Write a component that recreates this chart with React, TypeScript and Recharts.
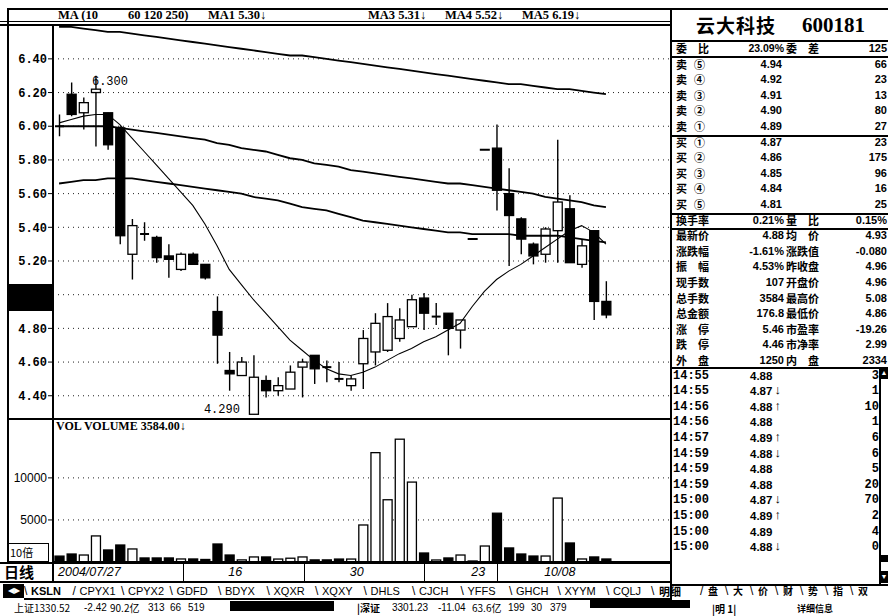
import React from 'react';
import { ComposedChart, Bar, Line, XAxis, YAxis, CartesianGrid } from 'recharts';

// daily bars, 2004/07/27 .. 10/11 (index = trading day)
const openPx = [6.00, 6.19, 6.08, 6.20, 6.08, 5.99, 5.24, 5.36, 5.34, 5.23, 5.15, 5.24, 5.18, 4.90, 4.55, 4.52, 4.29, 4.49, 4.43, 4.44, 4.57, 4.64, 4.57, 4.50, 4.46, 4.59, 4.66, 4.67, 4.74, 4.81, 4.98, 4.86, 4.89, 4.79, 5.33, 5.86, 5.87, 5.60, 5.45, 5.30, 5.24, 5.38, 5.51, 5.18, 5.38, 4.96];
const highPx = [6.07, 6.26, 6.17, 6.30, 6.08, 6.00, 5.45, 5.43, 5.35, 5.30, 5.25, 5.25, 5.18, 4.99, 4.66, 4.63, 4.64, 4.52, 4.51, 4.58, 4.62, 4.64, 4.61, 4.60, 4.52, 4.79, 4.89, 4.95, 4.92, 5.00, 5.01, 4.95, 4.89, 4.85, 5.33, 5.86, 6.01, 5.75, 5.46, 5.31, 5.40, 5.92, 5.59, 5.33, 5.38, 5.08];
const lowPx = [5.94, 6.06, 5.98, 5.88, 5.86, 5.30, 5.09, 5.32, 5.19, 5.10, 5.14, 5.18, 5.09, 4.59, 4.43, 4.52, 4.29, 4.39, 4.40, 4.44, 4.39, 4.47, 4.48, 4.48, 4.43, 4.44, 4.58, 4.66, 4.72, 4.81, 4.79, 4.82, 4.64, 4.68, 5.33, 5.86, 5.50, 5.17, 5.24, 5.18, 5.19, 5.19, 5.19, 5.16, 4.85, 4.86];
const closePx = [6.00, 6.07, 6.14, 6.22, 5.89, 5.35, 5.41, 5.35, 5.22, 5.21, 5.24, 5.18, 5.10, 4.76, 4.53, 4.60, 4.51, 4.43, 4.46, 4.54, 4.60, 4.56, 4.56, 4.49, 4.50, 4.74, 4.83, 4.87, 4.85, 4.97, 4.89, 4.87, 4.80, 4.85, 5.33, 5.86, 5.62, 5.47, 5.33, 5.23, 5.39, 5.55, 5.19, 5.29, 4.96, 4.88];
const volume = [700, 950, 830, 3100, 1430, 2020, 1550, 480, 480, 480, 360, 360, 300, 2140, 830, 250, 600, 600, 350, 450, 600, 250, 250, 350, 350, 4400, 13000, 7400, 14600, 9500, 1070, 240, 480, 830, 120, 1900, 5800, 1670, 950, 710, 710, 7600, 2260, 360, 600, 358];

const ma10 = [6.02, 6.04, 6.06, 6.07, 6.07, 6.01, 5.93, 5.85, 5.77, 5.69, 5.61, 5.53, 5.42, 5.29, 5.15, 5.06, 4.97, 4.89, 4.81, 4.73, 4.67, 4.61, 4.56, 4.53, 4.52, 4.54, 4.57, 4.61, 4.65, 4.68, 4.72, 4.75, 4.79, 4.83, 4.93, 5.02, 5.09, 5.14, 5.18, 5.23, 5.28, 5.33, 5.38, 5.41, 5.37, 5.30];
const ma60 = [5.66, 5.67, 5.68, 5.68, 5.69, 5.69, 5.69, 5.68, 5.67, 5.66, 5.65, 5.64, 5.63, 5.62, 5.61, 5.60, 5.58, 5.57, 5.56, 5.54, 5.52, 5.51, 5.50, 5.48, 5.46, 5.44, 5.43, 5.42, 5.41, 5.40, 5.39, 5.38, 5.37, 5.37, 5.36, 5.36, 5.36, 5.36, 5.35, 5.35, 5.35, 5.35, 5.34, 5.33, 5.32, 5.31];
const ma120 = [6.00, 6.00, 6.00, 6.00, 6.00, 5.99, 5.98, 5.97, 5.96, 5.95, 5.94, 5.93, 5.92, 5.90, 5.89, 5.87, 5.86, 5.85, 5.83, 5.81, 5.80, 5.78, 5.77, 5.76, 5.74, 5.73, 5.72, 5.71, 5.70, 5.69, 5.68, 5.67, 5.66, 5.66, 5.65, 5.64, 5.63, 5.62, 5.61, 5.60, 5.58, 5.57, 5.56, 5.55, 5.53, 5.52];
const ma250 = [6.59, 6.59, 6.58, 6.57, 6.56, 6.56, 6.55, 6.54, 6.53, 6.52, 6.51, 6.50, 6.49, 6.48, 6.47, 6.46, 6.45, 6.44, 6.43, 6.42, 6.42, 6.41, 6.40, 6.39, 6.38, 6.37, 6.36, 6.35, 6.34, 6.33, 6.32, 6.31, 6.30, 6.29, 6.28, 6.27, 6.26, 6.25, 6.25, 6.24, 6.23, 6.22, 6.22, 6.21, 6.20, 6.19];

const priceTicks = [4.4, 4.6, 4.8, 5.0, 5.2, 5.4, 5.6, 5.8, 6.0, 6.2, 6.4];
const volTicks = [5000, 10000];
const dateTicks = [0, 14, 24, 34, 40];
const dateText = ['2004/07/27', '16', '30', '23', '10/08'];
const dateSeps = [183, 304, 424, 497];

const sellRows = [['卖', '⑤', '4.94', '66'], ['卖', '④', '4.92', '23'], ['卖', '③', '4.91', '13'], ['卖', '②', '4.90', '80'], ['卖', '①', '4.89', '27']];
const buyRows = [['买', '①', '4.87', '23'], ['买', '②', '4.86', '175'], ['买', '③', '4.85', '96'], ['买', '④', '4.84', '16'], ['买', '⑤', '4.81', '25']];
const statRows = [
  ['换手率', '0.21%', '量　比', '0.15%'], ['最新价', '4.88', '均　价', '4.93'], ['涨跌幅', '-1.61%', '涨跌值', '-0.080'],
  ['振　幅', '4.53%', '昨收盘', '4.96'], ['现手数', '107', '开盘价', '4.96'], ['总手数', '3584', '最高价', '5.08'],
  ['总金额', '176.8', '最低价', '4.86'], ['涨　停', '5.46', '市盈率', '-19.26'], ['跌　停', '4.46', '市净率', '2.99'],
  ['外　盘', '1250', '内　盘', '2334'],
];
const tickRows = [
  ['14:55', '4.88', '', '3'], ['14:55', '4.87', '↓', '1'], ['14:56', '4.88', '↑', '10'], ['14:56', '4.88', '', '1'],
  ['14:57', '4.89', '↑', '6'], ['14:59', '4.88', '↓', '6'], ['14:59', '4.88', '', '5'], ['14:59', '4.88', '', '20'],
  ['15:00', '4.87', '↓', '70'], ['15:00', '4.89', '↑', '2'], ['15:00', '4.89', '', '4'], ['15:00', '4.88', '↓', '0'],
];
const tabs = ['KSLN', 'CPYX1', 'CPYX2', 'GDFD', 'BDYX', 'XQXR', 'XQXY', 'DHLS', 'CJCH', 'YFFS', 'GHCH', 'XYYM', 'CQLJ'];
const sideTabs = ['盘', '大', '价', '财', '势', '指', '双'];

const MONO = '"Liberation Mono", monospace';
const SANS = '"Liberation Sans", Arial, sans-serif';
const SERIF = '"Liberation Serif", serif';
const CJK = '"Noto Sans CJK SC", sans-serif';

const rows = openPx.map((o, i) => ({
  i,
  open: o,
  high: highPx[i],
  low: lowPx[i],
  close: closePx[i],
  range: [lowPx[i], highPx[i]],
  up: closePx[i] > o || (closePx[i] === o && i > 0 && closePx[i] > closePx[i - 1]),
  vol: volume[i],
  ma10: ma10[i],
  ma60: ma60[i],
  ma120: ma120[i],
  ma250: ma250[i],
}));

const hiIdx = highPx.indexOf(Math.max(...highPx));
const loIdx = lowPx.indexOf(Math.min(...lowPx));

function Candle(props: any) {
  const { x, y, width, height, payload, index } = props;
  if (x == null || y == null) return null;
  const cx = x + width / 2;
  const top = Math.min(y, y + height);
  const h = Math.abs(height);
  const { open, close, high, low, up } = payload;
  const span = high - low;
  const py = (v: number) => (span > 0 ? top + ((high - v) / span) * h : top);
  const bw = 9;
  const bTop = py(Math.max(open, close));
  const bBot = py(Math.min(open, close));
  return (
    <g>
      {span === 0 ? (
        <line x1={cx - 5} x2={cx + 5} y1={top} y2={top} stroke="#000" strokeWidth={2} />
      ) : (
        <>
          <line x1={cx} x2={cx} y1={py(high)} y2={py(low)} stroke="#000" strokeWidth={1.4} />
          {bBot - bTop < 2 ? (
            <line x1={cx - bw / 2} x2={cx + bw / 2} y1={bTop} y2={bTop} stroke="#000" strokeWidth={2} />
          ) : (
            <rect x={cx - bw / 2} y={bTop} width={bw} height={bBot - bTop} fill={up ? '#fff' : '#000'} stroke="#000" strokeWidth={1.3} />
          )}
        </>
      )}
      {index === hiIdx && (
        <text x={cx - 4} y={py(high) + 9} fontFamily={MONO} fontSize={12} fill="#000">{high.toFixed(3)}</text>
      )}
      {index === loIdx && (
        <text x={cx - 14} y={py(low) - 1} textAnchor="end" fontFamily={MONO} fontSize={12} fill="#000">{low.toFixed(3)}</text>
      )}
    </g>
  );
}

function VolBar(props: any) {
  const { x, y, width, height, payload } = props;
  if (x == null || y == null) return null;
  const cx = x + width / 2;
  const top = Math.min(y, y + height);
  const h = Math.max(Math.abs(height), 1.5);
  return <rect x={cx - 4.5} y={top} width={9} height={h} fill={payload.up ? '#fff' : '#000'} stroke="#000" strokeWidth={1.3} />;
}

function DateTick(props: any) {
  const k = dateTicks.indexOf(props.payload.value);
  if (k < 0) return null;
  return (
    <text x={props.x - 1} y={props.y + 14} fontFamily={SANS} fontStyle="italic" fontSize={12.5} fill="#000">{dateText[k]}</text>
  );
}

const Box = ({ l, t, w, h, bg = '#000' }: any) => (
  <div style={{ position: 'absolute', left: l, top: t, width: w, height: h, background: bg }} />
);

const Txt = ({ x, y, children, right = false, size = 11, font = SANS, bold = true, italic = false, color = '#000', spacing = 0 }: any) => {
  const st: any = {
    position: 'absolute', top: y - 8, height: 16, lineHeight: '16px', fontSize: size, fontFamily: font,
    fontWeight: bold ? 700 : 400, fontStyle: italic ? 'italic' : 'normal', color, whiteSpace: 'nowrap', letterSpacing: spacing,
  };
  if (right) st.right = 888 - x;
  else st.left = x;
  return <div style={st}>{children}</div>;
};

const rowY = (k: number) => 48 + 15.6 * k;

export default function App() {
  const last = (a: number[]) => a[a.length - 1].toFixed(2);
  return (
    <div style={{ position: 'absolute', left: 0, top: 0, width: 888, height: 616, background: '#fff', overflow: 'hidden' }}>
      {/* price panel */}
      <div style={{ position: 'absolute', left: 0, top: 25 }}>
        <ComposedChart width={670} height={394} data={rows} margin={{ top: 0, right: 0, bottom: 0, left: 0 }}>
          <CartesianGrid vertical={false} stroke="#222" strokeDasharray="1 4" />
          <XAxis dataKey="i" type="category" hide padding={{ left: 0, right: 58 }} />
          <YAxis
            domain={[4.262, 6.601]}
            allowDataOverflow
            ticks={priceTicks}
            interval={0}
            width={53}
            tickSize={5}
            tickMargin={1}
            axisLine={{ stroke: '#000', strokeWidth: 2 }}
            tickLine={{ stroke: '#000' }}
            tick={{ fill: '#000', fontSize: 12, fontFamily: MONO, fontWeight: 700 }}
            tickFormatter={(v: number) => v.toFixed(2)}
          />
          <Bar dataKey="range" barSize={9} shape={(p: any) => <Candle {...p} />} isAnimationActive={false} />
          <Line dataKey="ma250" stroke="#000" strokeWidth={1.8} dot={false} activeDot={false} isAnimationActive={false} />
          <Line dataKey="ma120" stroke="#000" strokeWidth={1.8} dot={false} activeDot={false} isAnimationActive={false} />
          <Line dataKey="ma60" stroke="#000" strokeWidth={1.8} dot={false} activeDot={false} isAnimationActive={false} />
          <Line dataKey="ma10" stroke="#000" strokeWidth={1.1} dot={false} activeDot={false} isAnimationActive={false} />
        </ComposedChart>
      </div>

      {/* volume panel + date axis */}
      <div style={{ position: 'absolute', left: 0, top: 419 }}>
        <ComposedChart width={670} height={162} data={rows} margin={{ top: 0, right: 0, bottom: 0, left: 0 }}>
          <CartesianGrid vertical={false} horizontal stroke="#222" strokeDasharray="1 4" />
          <XAxis
            dataKey="i"
            type="category"
            height={19}
            padding={{ left: 0, right: 58 }}
            ticks={dateTicks}
            interval={0}
            tickSize={0}
            tickMargin={0}
            tickLine={false}
            axisLine={{ stroke: '#000', strokeWidth: 2 }}
            tick={(p: any) => <DateTick {...p} />}
          />
          <YAxis
            domain={[0, 17000]}
            allowDataOverflow
            ticks={volTicks}
            interval={0}
            width={53}
            tickSize={5}
            tickMargin={1}
            axisLine={{ stroke: '#000', strokeWidth: 2 }}
            tickLine={{ stroke: '#000' }}
            tick={{ fill: '#000', fontSize: 12, fontFamily: SANS }}
          />
          <Bar dataKey="vol" barSize={9} shape={(p: any) => <VolBar {...p} />} isAnimationActive={false} />
        </ComposedChart>
      </div>

      {/* frame lines */}
      <Box l={7} t={8} w={881} h={2} />
      <Box l={0} t={21} w={671} h={1} />
      <Box l={0} t={24} w={671} h={2} />
      <Box l={7} t={8} w={1.5} h={556} />
      <Box l={7} t={418} w={664} h={2} />
      <Box l={0} t={562} w={671} h={2} />
      <Box l={0} t={581} w={671} h={1.5} />
      <Box l={52} t={562} w={1.5} h={20} />
      {dateSeps.map((s) => <Box key={s} l={s} t={563} w={1} h={18} />)}
      <Box l={670} t={8} w={2} h={592} />
      <Box l={7} t={284} w={46} h={27} />

      {/* header */}
      <Txt x={58} y={15} font={SERIF} size={12.5}>MA (10</Txt>
      <Txt x={128} y={15} font={SERIF} size={12.5}>60 120 250)</Txt>
      <Txt x={208} y={15} font={SERIF} size={12.5}>{`MA1 ${last(ma10)}↓`}</Txt>
      <Txt x={368} y={15} font={SERIF} size={12.5}>{`MA3 ${last(ma60)}↓`}</Txt>
      <Txt x={445} y={15} font={SERIF} size={12.5}>{`MA4 ${last(ma120)}↓`}</Txt>
      <Txt x={522} y={15} font={SERIF} size={12.5}>{`MA5 ${last(ma250)}↓`}</Txt>

      <Txt x={56} y={426} font={SERIF} size={12}>VOL VOLUME 3584.00↓</Txt>
      <div style={{ position: 'absolute', left: 7, top: 543, width: 42, height: 19, border: '1.5px solid #000', boxSizing: 'border-box' }} />
      <Txt x={10} y={552} font={CJK} size={11} bold={false}>10倍</Txt>
      <Txt x={4} y={572} font={CJK} size={15}>日线</Txt>

      {/* tab strip */}
      <div style={{ position: 'absolute', left: 3, top: 584, width: 21, height: 14, background: '#000', color: '#fff', fontSize: 8, lineHeight: '14px', textAlign: 'center' }}>◀▶</div>
      <Box l={24} t={598} w={646} h={1.5} />
      {tabs.map((t, k) => (
        <React.Fragment key={t}>
          <Txt x={24 + 48.5 * k} y={591} size={12} bold={false} font={SANS}>{k === 1 ? '/' : '\\'}</Txt>
          <Txt x={31 + 48.5 * k} y={591} size={11} bold={k === 0} font={SANS}>{t}</Txt>
        </React.Fragment>
      ))}
      <Txt x={651} y={591} size={12} bold={false}>\</Txt>
      <Txt x={659} y={591} size={11} font={CJK}>明细</Txt>
      {sideTabs.map((t, k) => (
        <React.Fragment key={t}>
          <Txt x={700 + 25 * k} y={591} size={12} bold={false}>{k === 0 ? '/' : '\\'}</Txt>
          <Txt x={708 + 25 * k} y={591} size={10} font={CJK}>{t}</Txt>
        </React.Fragment>
      ))}

      {/* status line */}
      <Txt x={14} y={608} size={10} font={CJK} bold={false}>上证1330.52</Txt>
      <Txt x={84} y={608} size={10} bold={false}>-2.42</Txt>
      <Txt x={110} y={608} size={10} font={CJK} bold={false}>90.2亿</Txt>
      <Txt x={148} y={608} size={10} bold={false}>313</Txt>
      <Txt x={170} y={608} size={10} bold={false}>66</Txt>
      <Txt x={188} y={608} size={10} bold={false}>519</Txt>
      <Box l={230} t={601} w={104} h={10} />
      <Txt x={357} y={608} size={10} font={CJK}>|深证</Txt>
      <Txt x={392} y={608} size={10} bold={false}>3301.23</Txt>
      <Txt x={438} y={608} size={10} bold={false}>-11.04</Txt>
      <Txt x={472} y={608} size={10} font={CJK} bold={false}>63.6亿</Txt>
      <Txt x={508} y={608} size={10} bold={false}>199</Txt>
      <Txt x={531} y={608} size={10} bold={false}>30</Txt>
      <Txt x={550} y={608} size={10} bold={false}>379</Txt>
      <Box l={590} t={600} w={100} h={8} />
      <Txt x={712} y={609} size={10} font={CJK}>|明 1|</Txt>
      <Txt x={797} y={609} size={9} font={CJK}>详细信息</Txt>

      {/* quote panel */}
      <Txt x={696} y={25} size={19} font={CJK} spacing={1}>云大科技</Txt>
      <Txt x={802} y={25} size={21} font={SERIF}>600181</Txt>
      <Box l={672} t={40} w={216} h={2} />
      <Box l={672} t={56} w={216} h={1.5} />
      <Box l={672} t={135} w={216} h={1.5} />
      <Box l={672} t={213} w={216} h={1.5} />
      <Box l={672} t={228} w={216} h={1.5} />
      <Box l={672} t={367} w={216} h={1.5} />
      <Box l={672} t={584} w={216} h={1.5} />

      <Txt x={676} y={rowY(0)} font={CJK}>委　比</Txt>
      <Txt x={784} y={rowY(0)} right size={10.5}>23.09%</Txt>
      <Txt x={786} y={rowY(0)} font={CJK}>委　差</Txt>
      <Txt x={887} y={rowY(0)} right>125</Txt>

      {[...sellRows, ...buyRows].map((r, k) => (
        <React.Fragment key={'ob' + k}>
          <Txt x={676} y={rowY(k + 1)} font={CJK}>{r[0]}</Txt>
          <Txt x={694} y={rowY(k + 1)} font={CJK}>{r[1]}</Txt>
          <Txt x={782} y={rowY(k + 1)} right>{r[2]}</Txt>
          <Txt x={887} y={rowY(k + 1)} right>{r[3]}</Txt>
        </React.Fragment>
      ))}

      {statRows.map((r, k) => (
        <React.Fragment key={'st' + k}>
          <Txt x={676} y={rowY(k + 11)} font={CJK}>{r[0]}</Txt>
          <Txt x={784} y={rowY(k + 11)} right>{r[1]}</Txt>
          <Txt x={786} y={rowY(k + 11)} font={CJK}>{r[2]}</Txt>
          <Txt x={887} y={rowY(k + 11)} right>{r[3]}</Txt>
        </React.Fragment>
      ))}

      {tickRows.map((r, k) => (
        <React.Fragment key={'tk' + k}>
          <Txt x={673} y={rowY(k + 21)} font={MONO} size={12}>{r[0]}</Txt>
          <Txt x={750} y={rowY(k + 21)} size={11.5}>{r[1]}</Txt>
          <Txt x={774} y={rowY(k + 21)} size={13} font={MONO}>{r[2]}</Txt>
          <Txt x={879} y={rowY(k + 21)} right font={MONO} size={12}>{r[3]}</Txt>
        </React.Fragment>
      ))}
      <Box l={879} t={368} w={1.5} h={216} />
      <div style={{ position: 'absolute', left: 880, top: 368, width: 8, height: 11, background: '#000', color: '#fff', fontSize: 7, lineHeight: '11px', textAlign: 'center' }}>▲</div>
      <Box l={880} t={555} w={8} h={7} />
      <div style={{ position: 'absolute', left: 880, top: 571, width: 8, height: 12, background: '#000', color: '#fff', fontSize: 7, lineHeight: '12px', textAlign: 'center' }}>▼</div>
    </div>
  );
}
